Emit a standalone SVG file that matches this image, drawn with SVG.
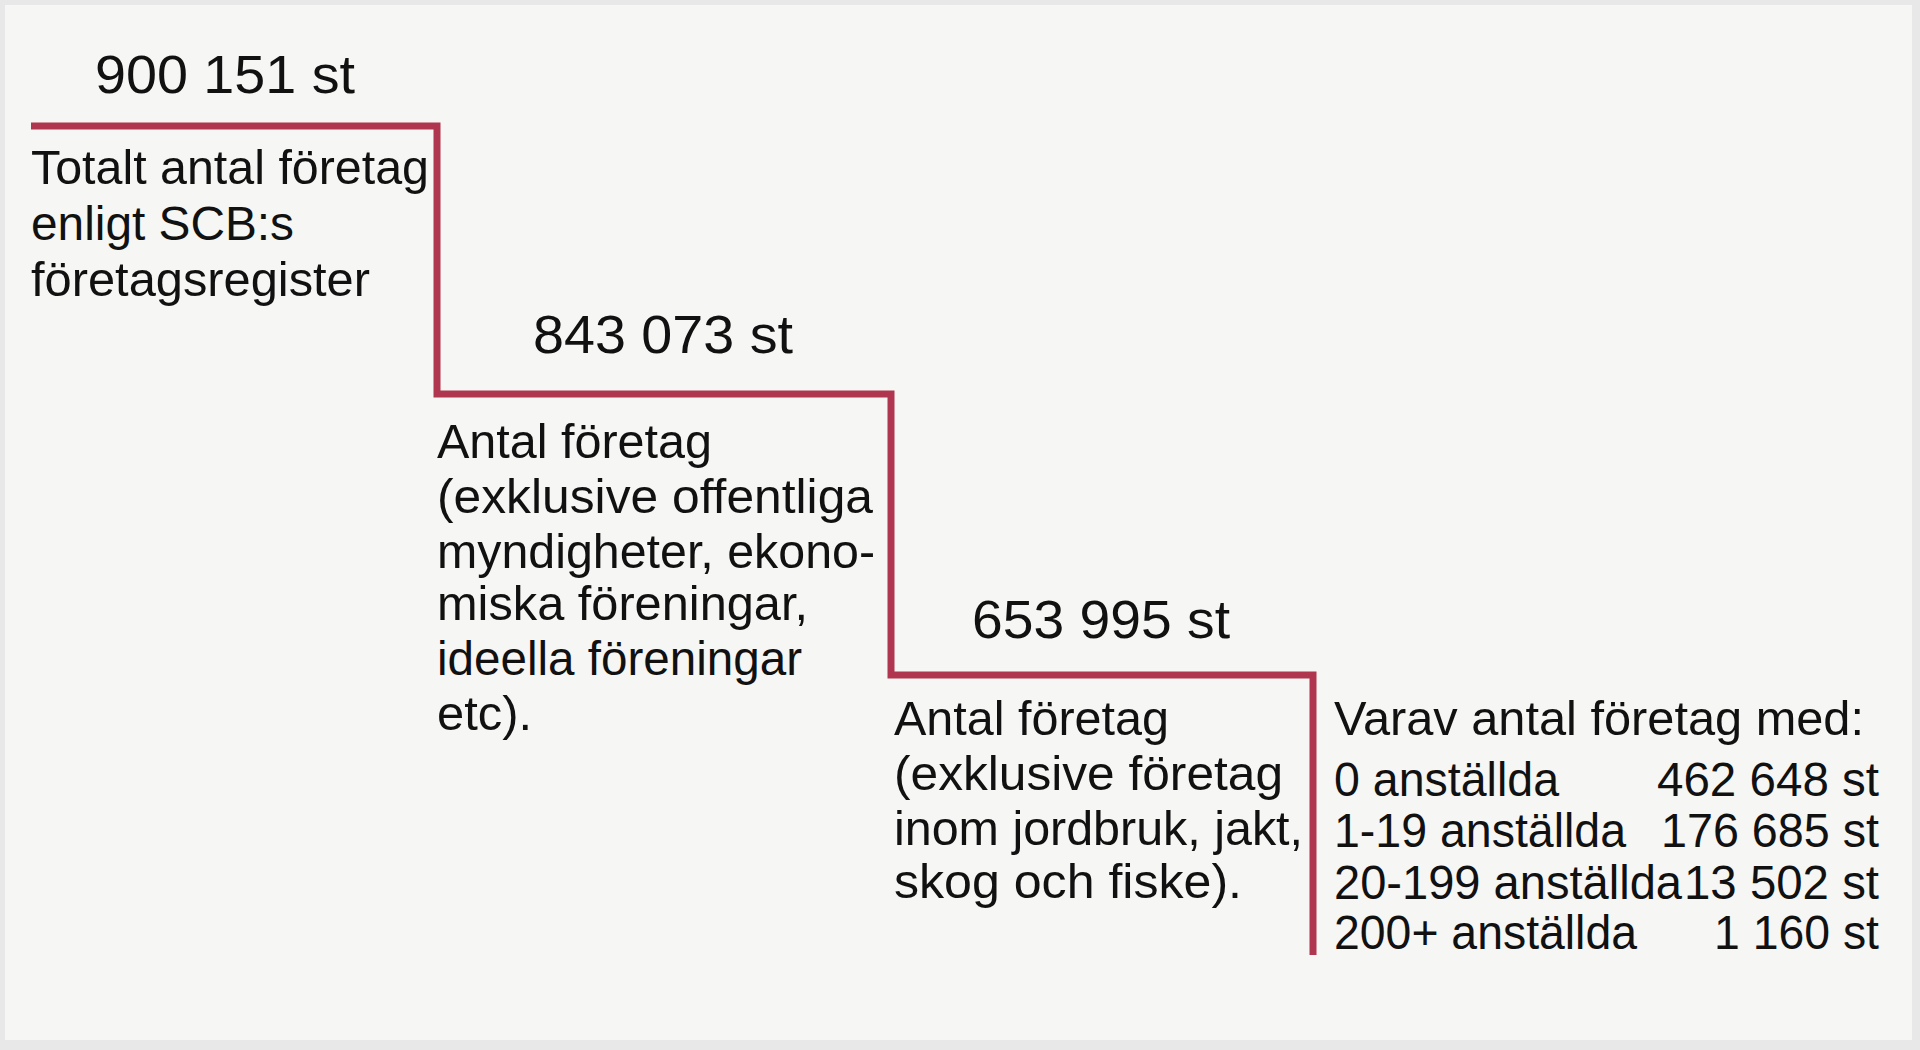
<svg xmlns="http://www.w3.org/2000/svg" width="1920" height="1050" viewBox="0 0 1920 1050">
<style>
.t{font-family:"Liberation Sans",Arial,sans-serif;font-size:48px;fill:#111111;}
.n{font-family:"Liberation Sans",Arial,sans-serif;font-size:53px;fill:#111111;}
.step{fill:none;stroke:#b0364f;stroke-width:7;stroke-linejoin:miter;}
</style>
<rect x="0" y="0" width="1920" height="1050" fill="#e8e8e8"/>
<rect x="5" y="5" width="1907" height="1035" fill="#f6f6f4"/>
<g id="connectors">
<path class="step" d="M31,126 H437 V394 H891 V675 H1313 V955"/>
</g>
<g id="node-total">
<text class="n" x="95" y="93" textLength="260" lengthAdjust="spacingAndGlyphs">900 151 st</text>
<text class="t" x="31" y="184" textLength="398" lengthAdjust="spacingAndGlyphs">Totalt antal företag</text>
<text class="t" x="31" y="240" textLength="263" lengthAdjust="spacingAndGlyphs">enligt SCB:s</text>
<text class="t" x="31" y="296" textLength="339" lengthAdjust="spacingAndGlyphs">företagsregister</text>
</g>
<g id="node-excl-public">
<text class="n" x="533" y="353" textLength="260" lengthAdjust="spacingAndGlyphs">843 073 st</text>
<text class="t" x="437" y="458" textLength="275" lengthAdjust="spacingAndGlyphs">Antal företag</text>
<text class="t" x="437" y="513" textLength="436" lengthAdjust="spacingAndGlyphs">(exklusive offentliga</text>
<text class="t" x="437" y="568" textLength="438" lengthAdjust="spacingAndGlyphs">myndigheter, ekono-</text>
<text class="t" x="437" y="620" textLength="371" lengthAdjust="spacingAndGlyphs">miska föreningar,</text>
<text class="t" x="437" y="675" textLength="365" lengthAdjust="spacingAndGlyphs">ideella föreningar</text>
<text class="t" x="437" y="730" textLength="95" lengthAdjust="spacingAndGlyphs">etc).</text>
</g>
<g id="node-excl-agri">
<text class="n" x="972" y="638" textLength="258" lengthAdjust="spacingAndGlyphs">653 995 st</text>
<text class="t" x="894" y="735" textLength="275" lengthAdjust="spacingAndGlyphs">Antal företag</text>
<text class="t" x="894" y="790" textLength="389" lengthAdjust="spacingAndGlyphs">(exklusive företag</text>
<text class="t" x="894" y="845" textLength="409" lengthAdjust="spacingAndGlyphs">inom jordbruk, jakt,</text>
<text class="t" x="894" y="898" textLength="348" lengthAdjust="spacingAndGlyphs">skog och fiske).</text>
</g>
<g id="node-breakdown">
<text class="t" x="1334" y="735" textLength="530" lengthAdjust="spacingAndGlyphs">Varav antal företag med:</text>
<text class="t" x="1334" y="796" textLength="225" lengthAdjust="spacingAndGlyphs">0 anställda</text>
<text class="t" x="1879" y="796" text-anchor="end" textLength="222" lengthAdjust="spacingAndGlyphs">462 648 st</text>
<text class="t" x="1334" y="847" textLength="292" lengthAdjust="spacingAndGlyphs">1-19 anställda</text>
<text class="t" x="1879" y="847" text-anchor="end" textLength="218" lengthAdjust="spacingAndGlyphs">176 685 st</text>
<text class="t" x="1334" y="899" textLength="348" lengthAdjust="spacingAndGlyphs">20-199 anställda</text>
<text class="t" x="1879" y="899" text-anchor="end" textLength="195" lengthAdjust="spacingAndGlyphs">13 502 st</text>
<text class="t" x="1334" y="949" textLength="303" lengthAdjust="spacingAndGlyphs">200+ anställda</text>
<text class="t" x="1879" y="949" text-anchor="end" textLength="165" lengthAdjust="spacingAndGlyphs">1 160 st</text>
</g>
</svg>
